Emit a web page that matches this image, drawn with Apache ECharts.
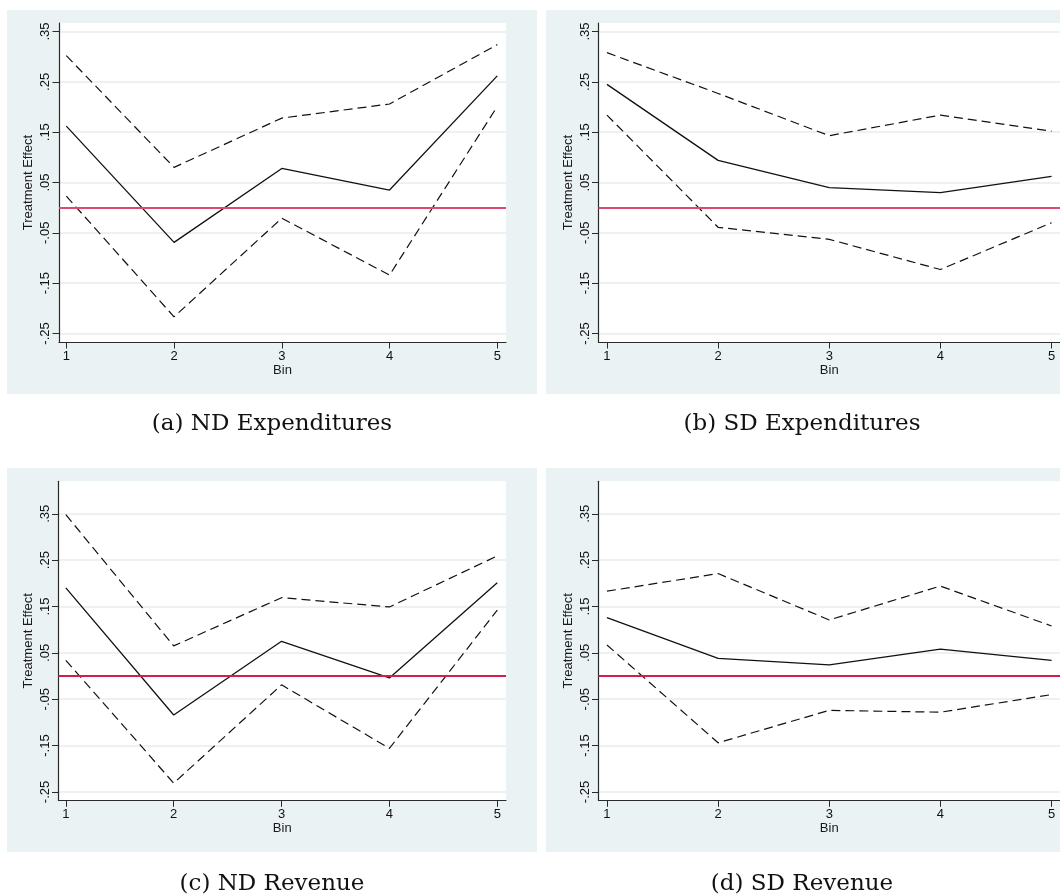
<!DOCTYPE html>
<html>
<head>
<meta charset="utf-8">
<script src="https://cdn.jsdelivr.net/npm/echarts@6/dist/echarts.min.js"></script>
<style>
  html, body { margin: 0; padding: 0; background: #ffffff; }
  #chart { width: 1060px; height: 896px; }
</style>
</head>
<body>
<div id="chart"></div>
<script>
// ---- data ----
const bins = [1, 2, 3, 4, 5];
const yTickValues = [-0.25, -0.15, -0.05, 0.05, 0.15, 0.25, 0.35];
const xTickValues = [1, 2, 3, 4, 5];

const ndExpUpper = [0.302, 0.080, 0.178, 0.206, 0.324];
const ndExpEst   = [0.162, -0.069, 0.078, 0.035, 0.262];
const ndExpLower = [0.023, -0.217, -0.021, -0.134, 0.201];

const sdExpUpper = [0.308, 0.227, 0.143, 0.184, 0.152];
const sdExpEst   = [0.245, 0.094, 0.040, 0.030, 0.062];
const sdExpLower = [0.184, -0.039, -0.063, -0.123, -0.030];

const ndRevUpper = [0.348, 0.065, 0.169, 0.149, 0.259];
const ndRevEst   = [0.190, -0.084, 0.075, -0.004, 0.201];
const ndRevLower = [0.034, -0.231, -0.019, -0.156, 0.142];

const sdRevUpper = [0.183, 0.221, 0.121, 0.194, 0.108];
const sdRevEst   = [0.126, 0.038, 0.024, 0.058, 0.034];
const sdRevLower = [0.067, -0.144, -0.074, -0.078, -0.040];

const captions = ['(a) ND Expenditures', '(b) SD Expenditures', '(c) ND Revenue', '(d) SD Revenue'];
const yAxisTitle = 'Treatment Effect';
const xAxisTitle = 'Bin';

// ---- layout / style ----
const panels = [
  { grid: {left: 59,    top: 23,    width: 447,   height: 319}, xr: [0.932, 5.081], yr: [-0.267, 0.367],
    bg: [7, 10, 530, 384], upper: ndExpUpper, est: ndExpEst, lower: ndExpLower, red: '#dc4a74', cap: [272, 413] },
  { grid: {left: 598.5, top: 23,    width: 462,   height: 319}, xr: [0.924, 5.076], yr: [-0.267, 0.367],
    bg: [546, 10, 514, 384], upper: sdExpUpper, est: sdExpEst, lower: sdExpLower, red: '#dc4a74', cap: [802, 413] },
  { grid: {left: 58.5,  top: 481.3, width: 447.5, height: 319}, xr: [0.932, 5.081], yr: [-0.268, 0.420],
    bg: [7, 468, 530, 384], upper: ndRevUpper, est: ndRevEst, lower: ndRevLower, red: '#d61c4b', cap: [272, 873] },
  { grid: {left: 598.5, top: 481.3, width: 462,   height: 319}, xr: [0.924, 5.076], yr: [-0.268, 0.420],
    bg: [546, 468, 514, 384], upper: sdRevUpper, est: sdRevEst, lower: sdRevLower, red: '#d61c4b', cap: [802, 873] }
];

const PANEL_BG = '#eaf2f3';
const AXIS_COLOR = '#2a2a2a';
const SANS = 'Liberation Sans, Arial, Helvetica, sans-serif';
const SERIF = 'DejaVu Serif, serif';
const dash = [9, 5];

function pairs(vals) { return bins.map((b, i) => [b, vals[i]]); }
function fmtY(v) { return v.toFixed(2).replace(/^(-?)0\./, '$1.'); }

const grids = [], xAxes = [], yAxes = [], series = [], titles = [], graphics = [];

panels.forEach((p, k) => {
  grids.push(Object.assign({ show: true, backgroundColor: '#ffffff', borderWidth: 0 }, p.grid));
  graphics.push({
    type: 'rect', z: -100, silent: true,
    shape: { x: p.bg[0], y: p.bg[1], width: p.bg[2], height: p.bg[3] },
    style: { fill: PANEL_BG }
  });
  xAxes.push({
    type: 'value', gridIndex: k, min: p.xr[0], max: p.xr[1],
    name: xAxisTitle, nameLocation: 'middle', nameGap: 20,
    nameTextStyle: { fontFamily: SANS, fontSize: 13, color: '#1a1a1a' },
    axisLine: { show: true, onZero: false, lineStyle: { color: AXIS_COLOR, width: 1.2 } },
    axisTick: { show: true, length: 6.5, customValues: xTickValues, lineStyle: { color: AXIS_COLOR, width: 1 } },
    axisLabel: { customValues: xTickValues, margin: 8, fontFamily: SANS, fontSize: 13, color: '#111',
                 formatter: v => String(v) },
    splitLine: { show: false }
  });
  yAxes.push({
    type: 'value', gridIndex: k, min: p.yr[0], max: p.yr[1],
    name: yAxisTitle, nameLocation: 'middle', nameGap: 24,
    nameTextStyle: { fontFamily: SANS, fontSize: 13, color: '#1a1a1a' },
    axisLine: { show: true, onZero: false, lineStyle: { color: AXIS_COLOR, width: 1.2 } },
    axisTick: { show: true, length: 6.5, customValues: yTickValues, lineStyle: { color: AXIS_COLOR, width: 1 } },
    axisLabel: { customValues: yTickValues, rotate: 90, margin: 7, fontFamily: SANS, fontSize: 13,
                 color: '#111', formatter: fmtY },
    splitLine: { show: true, lineStyle: { color: '#e6eef0', width: 1.5 } }
  });
  const common = { type: 'line', xAxisIndex: k, yAxisIndex: k, showSymbol: false, symbol: 'none',
                   silent: true, animation: false };
  series.push(Object.assign({}, common, {
    name: 'upper' + k, data: pairs(p.upper), z: 3,
    lineStyle: { color: '#111', width: 1.2, type: dash }
  }));
  series.push(Object.assign({}, common, {
    name: 'est' + k, data: pairs(p.est), z: 3,
    lineStyle: { color: '#111', width: 1.3, type: 'solid' },
    markLine: {
      silent: true, symbol: ['none', 'none'], label: { show: false }, animation: false,
      lineStyle: { color: p.red, width: 1.8, type: 'solid' },
      emphasis: { disabled: true },
      data: [{ yAxis: 0 }]
    }
  }));
  series.push(Object.assign({}, common, {
    name: 'lower' + k, data: pairs(p.lower), z: 3,
    lineStyle: { color: '#111', width: 1.2, type: dash }
  }));
  titles.push({
    text: captions[k], left: p.cap[0], top: p.cap[1], textAlign: 'center', padding: 0,
    textStyle: { fontFamily: SERIF, fontSize: 23, fontWeight: 'normal', color: '#111' }
  });
});

const chart = echarts.init(document.getElementById('chart'), null, { renderer: 'canvas' });
chart.setOption({
  animation: false,
  backgroundColor: '#ffffff',
  title: titles,
  grid: grids,
  xAxis: xAxes,
  yAxis: yAxes,
  series: series,
  graphic: { elements: graphics }
});
</script>
</body>
</html>
